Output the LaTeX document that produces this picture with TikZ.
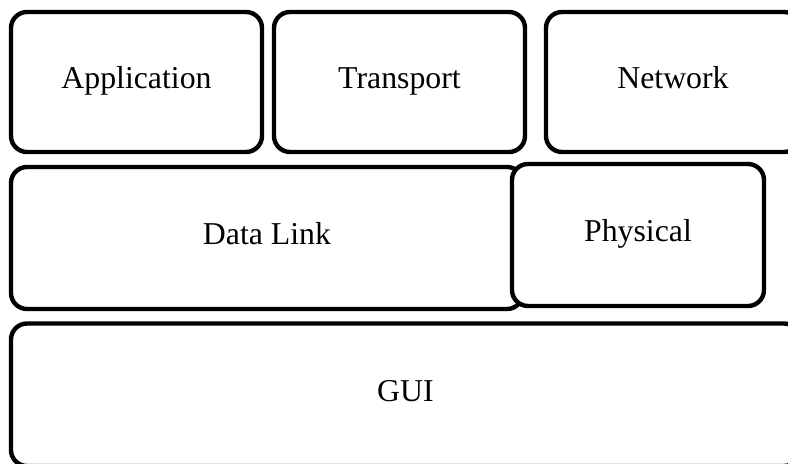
\documentclass[tikz,border=0pt]{standalone}
\usepackage{fontspec}
\setmainfont{Liberation Serif}
\begin{document}
\begin{tikzpicture}[x=0.5pt,y=-0.5pt,
  layer/.style={draw=black, fill=white, line width=2.2pt, rounded corners=8pt,
    inner sep=0pt, text height=0.66em, text depth=0pt,
    font=\fontsize{15.9}{18}\selectfont}]
  \clip (0,0) rectangle (788,464);
  \fill[white] (0,0) rectangle (788,464);
  % top row
  \node[layer, minimum width=125.5pt, minimum height=70pt] (app) at (136.5,82) {Application};
  \node[layer, minimum width=125.5pt, minimum height=70pt] (trans) at (399.5,82) {Transport};
  \node[layer, minimum width=127pt, minimum height=70pt] (net) at (673,82) {Network};
  % middle row
  \node[layer, minimum width=256pt, minimum height=71pt] (dl) at (267,238) {Data Link};
  \node[layer, minimum width=126pt, minimum height=71pt] (phy) at (638,235) {Physical};
  % bottom row
  \node[layer, minimum width=394.5pt, minimum height=71.25pt] (gui) at (405.5,394.75) {GUI};
\end{tikzpicture}
\end{document}
